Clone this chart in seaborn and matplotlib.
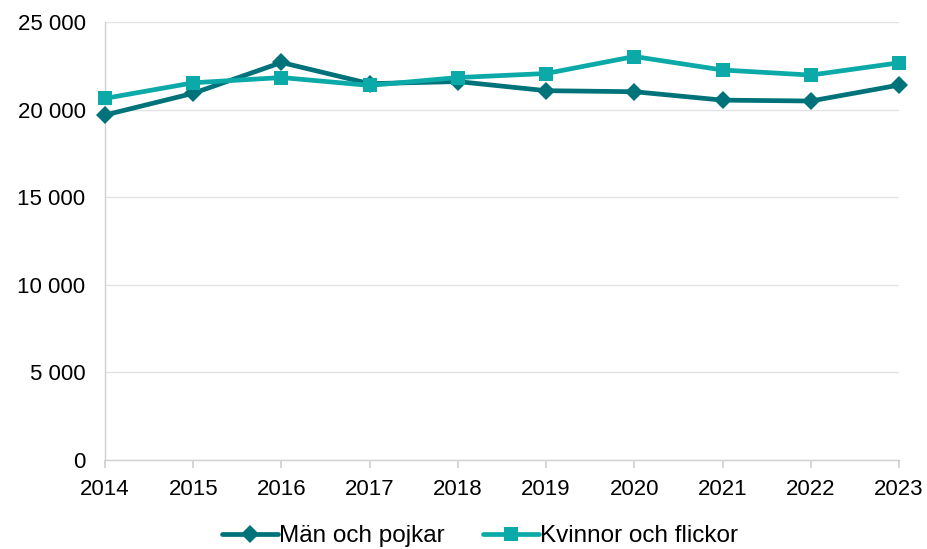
import matplotlib
matplotlib.use("Agg")
import matplotlib.pyplot as plt
import seaborn as sns
import pandas as pd

years = [2014, 2015, 2016, 2017, 2018, 2019, 2020, 2021, 2022, 2023]
man = [19690, 20930, 22690, 21480, 21600, 21080, 21020, 20540, 20490, 21400]
kvinnor = [20640, 21530, 21830, 21380, 21830, 22060, 23030, 22260, 21970, 22670]
series_names = ["Män och pojkar", "Kvinnor och flickor"]
yticks = [0, 5000, 10000, 15000, 20000, 25000]

sns.set_theme(style="white")
plt.rcParams['font.family'] = ['Liberation Sans', 'DejaVu Sans']

df = pd.DataFrame({
    "pos": list(range(len(years))) * 2,
    "value": man + kvinnor,
    "serie": [series_names[0]] * len(years) + [series_names[1]] * len(years),
})

fig = plt.figure(figsize=(9.28, 5.49), dpi=100)
ax = fig.add_axes([105/928, 1 - 460/549, (899-105)/928, (460-22)/549])

colors = {series_names[0]: "#00727A", series_names[1]: "#0BA9A8"}
markers = {series_names[0]: "D", series_names[1]: "s"}
sizes = {series_names[0]: 9.5, series_names[1]: 10.5}
for name in series_names:
    sub = df[df["serie"] == name]
    sns.lineplot(data=sub, x="pos", y="value", ax=ax, color=colors[name],
                 marker=markers[name], markersize=sizes[name], linewidth=3.4,
                 markeredgewidth=0, label=name, zorder=3, clip_on=False)

ax.set_xlim(0, len(years) - 1)
ax.set_ylim(0, 25000)
ax.set_yticks(yticks)
ax.set_yticklabels([f"{v:,}".replace(",", " ") for v in yticks])
ax.set_xticks(range(len(years)))
ax.set_xticklabels([str(y) for y in years])
ax.set_xlabel("")
ax.set_ylabel("")
ax.yaxis.grid(True, color="#E3E3E3", linewidth=1)
ax.set_axisbelow(True)
for s in ["top", "right"]:
    ax.spines[s].set_visible(False)
ax.spines["left"].set_color("#D0D0D0")
ax.spines["bottom"].set_color("#D0D0D0")
ax.spines["left"].set_linewidth(1)
ax.spines["bottom"].set_linewidth(1)
ax.tick_params(axis="x", which="both", length=6, color="#D0D0D0", labelsize=16,
               pad=8, direction="out", bottom=True, labelcolor="black")
ax.tick_params(axis="y", which="both", length=0, labelsize=16, pad=14, labelcolor="black")

leg = ax.legend(loc="center", bbox_to_anchor=((480 - 105) / 794, (460 - 536) / 438), ncol=2,
                frameon=False, fontsize=17.5, handlelength=2.3, columnspacing=1.6,
                handletextpad=0.05, borderaxespad=0, borderpad=0)
for t in leg.get_texts():
    t.set_color("black")

fig.savefig("out.png", dpi=100)
